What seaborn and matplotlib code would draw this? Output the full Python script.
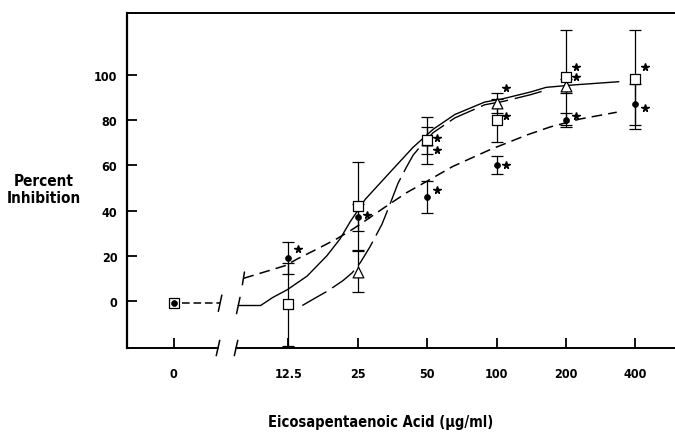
import numpy as np
import pandas as pd
import matplotlib
matplotlib.use("Agg")
import matplotlib.pyplot as plt
import seaborn as sns
from matplotlib import font_manager as fm

# ---------------- data ----------------
conc_labels = ["0", "12.5", "25", "50", "100", "200", "400"]
conc = [0, 12.5, 25, 50, 100, 200, 400]

square_mean = [-1, -1.5, 42, 71, 80, 99, 98]
square_err = [0, 18.5, 19.5, 10.5, 9.5, 21, 22]
square_star = [0, 0, 0, 1, 1, 1, 1]

triangle_mean = [np.nan, np.nan, 13, 71, 87.5, 95, np.nan]
triangle_err = [np.nan, np.nan, 9, 6, 4.5, 3, np.nan]
triangle_star = [0, 0, 0, 1, 1, 1, 0]

dot_mean = [-1, 19, 37, 46, 60, 80, 87]
dot_err = [0, 7, 6, 7, 4, 3, 9]
dot_star = [0, 1, 1, 1, 1, 1, 1]

# fitted curves (concentration, percent inhibition)
square_curve_conc = [7.6, 9.5, 10.7, 12.4, 15.1, 18.4, 21.0, 23.2, 27.0, 34.6,
                     43.5, 53.2, 66.0, 88.9, 107, 141, 164, 217, 339]
square_curve_val = [-2, -2, 1.5, 5, 11, 20, 27.5, 35, 45, 57,
                    68, 76, 82.5, 88, 89.5, 92.5, 94.5, 95.6, 97]

triangle_curve_conc = [14.4, 16.5, 18.6, 21.6, 23.7, 25.7, 28.3, 31.9, 34.6, 37.4,
                       40.6, 43.5, 48.3, 53.2, 66.0, 88.9, 107, 141, 164]
triangle_curve_val = [-2, 1.5, 4.5, 9, 12.5, 17, 24, 34, 43, 52,
                      59, 64.5, 70, 74.5, 81, 86.8, 88.3, 91.3, 93.3]

dot_curve_conc = [8.0, 12.2, 13.7, 16.7, 20.3, 23.2, 25.7, 32.3, 40.9, 50,
                  64.6, 94, 136, 171, 230, 332]
dot_curve_val = [10, 15.7, 18.6, 23, 27.5, 31, 34, 41, 48, 53,
                 59.5, 67, 73.5, 77, 80.5, 83.5]

zero_seg_val = [-1, -1]

y_ticks = [0, 20, 40, 60, 80, 100]

# ---------------- layout / style ----------------
ZERO_POS = -1.65          # position of the "0" category on the broken axis
BRK_L, BRK_R = -1.01, -0.75
XLIM = (-2.32, 5.57)
YLIM = (-20.8, 127.4)
square_star_dy = [0, 0, 0, 1, 2, 4.5, 5.5]
triangle_star_dy = [0, 0, 0, -4, 6.5, 4, 0]
dot_star_dy = [0, 4, 1, 3, 0, 2, -1.5]
STAR_DX = 0.14


def pos(c):
    c = np.asarray(c, dtype=float)
    safe = np.where(c > 0, c, 12.5)
    return np.where(c > 0, np.log2(safe / 12.5), ZERO_POS)


sns.set_style("white")
K = "black"
names = {f.name for f in fm.fontManager.ttflist}
if "Liberation Sans Narrow" in names:
    FONT = ["Liberation Sans Narrow", "DejaVu Sans"]
    STRETCH = "normal"
else:
    FONT = ["DejaVu Sans"]
    STRETCH = "condensed"
plt.rcParams["font.family"] = FONT
plt.rcParams["font.weight"] = "bold"
plt.rcParams["font.stretch"] = STRETCH
for key in ["text.color", "axes.labelcolor", "xtick.color", "ytick.color", "axes.edgecolor"]:
    plt.rcParams[key] = K

fig = plt.figure(figsize=(6.75, 4.35), dpi=100)
ax = fig.add_axes([127 / 675, 86 / 435, 548 / 675, 335 / 435])
ax.set_xlim(*XLIM)
ax.set_ylim(*YLIM)

# curves
sns.lineplot(x=pos(square_curve_conc), y=square_curve_val, ax=ax, color=K,
             lw=1.0, sort=False, estimator=None, zorder=2)
sns.lineplot(x=pos(triangle_curve_conc), y=triangle_curve_val, ax=ax, color=K,
             lw=1.0, sort=False, estimator=None, linestyle=(0, (20, 5)), zorder=2)
sns.lineplot(x=pos(dot_curve_conc), y=dot_curve_val, ax=ax, color=K,
             lw=1.1, sort=False, estimator=None, linestyle=(0, (7, 4)), zorder=2)
sns.lineplot(x=[ZERO_POS + 0.12, BRK_L + 0.03], y=zero_seg_val, ax=ax, color=K,
             lw=1.1, sort=False, estimator=None, linestyle=(0, (5, 2.5)), zorder=2)


# break slashes
def slash(x, y, h=3.6, w=0.025):
    ax.plot([x - w, x + w], [y - h, y + h], color=K, lw=1.1, clip_on=False, zorder=3)


slash(BRK_L + 0.03, zero_seg_val[-1])
slash(pos(square_curve_conc)[0], square_curve_val[0])
slash(pos(dot_curve_conc)[0], dot_curve_val[0], h=2.8, w=0.015)

# error bars
xp = pos(conc)
for mean, err in [(square_mean, square_err), (triangle_mean, triangle_err), (dot_mean, dot_err)]:
    m = np.asarray(mean, float)
    e = np.asarray(err, float)
    ok = np.isfinite(m) & np.isfinite(e) & (e > 0)
    ax.errorbar(xp[ok], m[ok], yerr=e[ok], fmt="none", ecolor=K,
                elinewidth=0.9, capsize=4, capthick=0.9, zorder=3)

# markers
df = pd.DataFrame({"x": xp, "sq": square_mean, "tri": triangle_mean, "dot": dot_mean})
sns.scatterplot(data=df, x="x", y="tri", ax=ax, marker="^", s=60, color="white",
                edgecolor=K, linewidth=0.9, zorder=4)
sns.scatterplot(data=df, x="x", y="sq", ax=ax, marker="s", s=46, color="white",
                edgecolor=K, linewidth=0.9, zorder=5)
sns.scatterplot(data=df, x="x", y="dot", ax=ax, marker="o", s=18, color=K,
                edgecolor=K, linewidth=0.5, zorder=6)

# significance stars
for mean, flags, dys in [(square_mean, square_star, square_star_dy),
                         (triangle_mean, triangle_star, triangle_star_dy),
                         (dot_mean, dot_star, dot_star_dy)]:
    for xi, mi, fl, dy in zip(xp, mean, flags, dys):
        if fl:
            ax.plot(xi + STAR_DX, mi + dy, marker="*", ms=5.5, color=K, zorder=6,
                    clip_on=False)

# axes, spines, ticks
for s in ["right", "bottom"]:
    ax.spines[s].set_visible(False)
ax.spines["left"].set_linewidth(1.6)
ax.spines["top"].set_linewidth(1.4)

yb = YLIM[0]
ax.plot([XLIM[0], BRK_L], [yb, yb], color=K, lw=1.4, clip_on=False, zorder=3)
ax.plot([BRK_R, XLIM[1]], [yb, yb], color=K, lw=1.4, clip_on=False, zorder=3)
slash(BRK_L, yb, h=3.4)
slash(BRK_R, yb, h=3.4)

ax.set_xticks(xp)
ax.set_xticklabels(conc_labels)
ax.set_yticks(y_ticks)
ax.set_yticklabels([str(v) for v in y_ticks])
ax.tick_params(axis="x", direction="in", length=7, width=1.3, pad=14,
               labelsize=9, colors=K, bottom=True, top=False)
ax.tick_params(axis="y", direction="in", length=7, width=1.3, pad=7,
               labelsize=9, colors=K, left=True, right=False)
for lab in ax.get_xticklabels() + ax.get_yticklabels():
    lab.set_fontweight("bold")
    lab.set_family(FONT)
    lab.set_fontstretch(STRETCH)
ax.set_xlabel("")
ax.set_ylabel("")
ax.grid(False)

fig.text(44 / 675, 1 - 190 / 435, "Percent\nInhibition", ha="center", va="center",
         fontsize=11, fontweight="bold", family=FONT, fontstretch=STRETCH,
         linespacing=1.2, color=K)
fig.text(381 / 675, 1 - 423 / 435, "Eicosapentaenoic Acid (\u03bcg/ml)", ha="center",
         va="center", fontsize=10.5, fontweight="bold", family=FONT,
         fontstretch=STRETCH, color=K)

fig.savefig("out.png", dpi=100)
